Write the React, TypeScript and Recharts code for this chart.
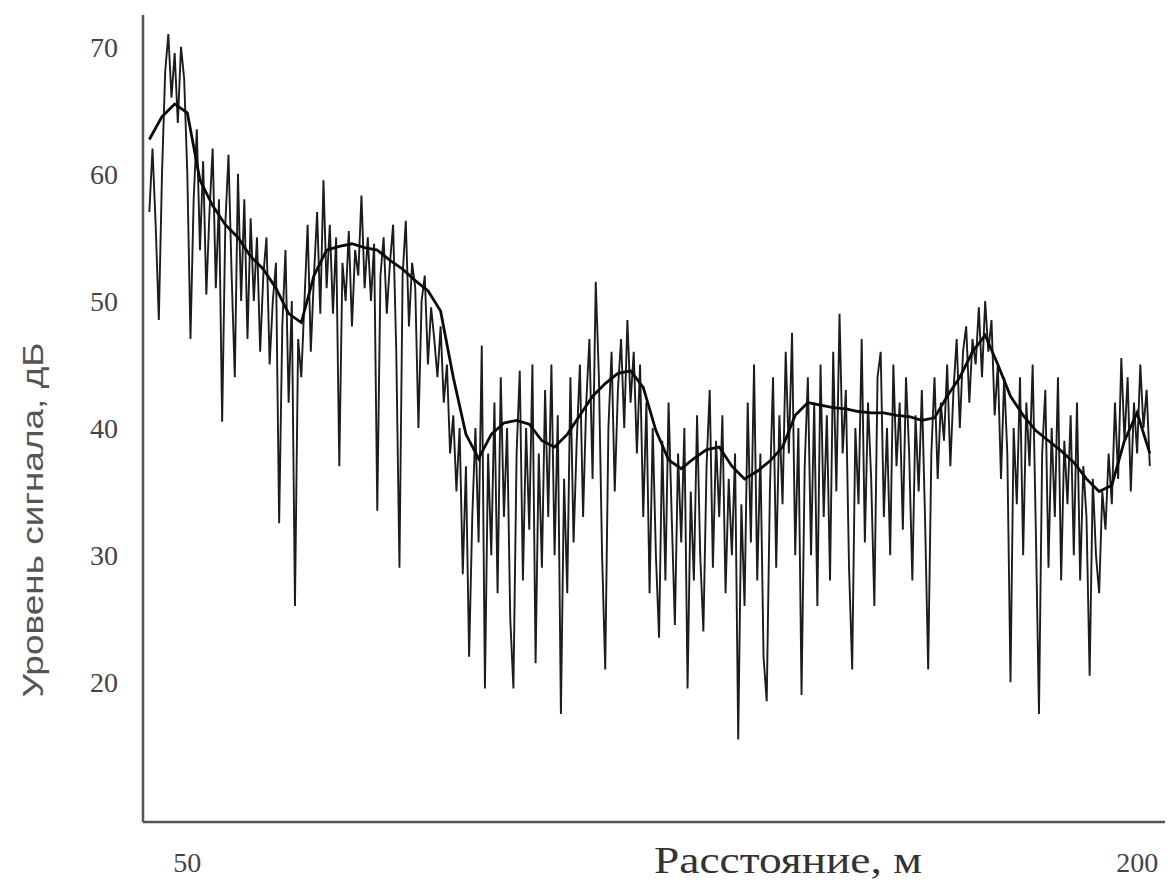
import React from 'react';
import { LineChart, Line, XAxis, YAxis, Label } from 'recharts';

// raw signal, sampled every 0.5 m starting at 44 m
const signalStart = 44;
const signalStep = 0.5;
const signalLevels: number[] = [
    57, 62, 56, 48.5, 60, 68, 71, 66, 69.5, 64,
    70, 67.5, 60, 47, 58, 63.5, 54, 61, 50.5, 57,
    62, 51, 58, 40.5, 56, 61.5, 52, 44, 60, 50,
    58, 47, 56.5, 50, 55, 46, 52, 55, 45, 50,
    53, 32.5, 48, 54, 42, 50, 26, 47, 44, 50,
    56, 46, 52, 57, 49, 59.5, 51, 56, 49, 55,
    37, 53, 50, 55.5, 48, 54, 52, 58.3, 51, 55,
    50, 54.5, 33.5, 52, 55, 49, 53, 56, 46, 29,
    52, 56.3, 48, 53, 51, 40, 50, 52, 45, 49.5,
    47, 44, 48, 42, 45, 38, 41, 35, 40, 28.5,
    37, 22, 33, 40, 31, 46.5, 19.5, 38, 30, 42,
    27, 44, 33, 40, 25, 19.5, 38, 44.5, 28, 40,
    32, 45, 21.5, 38, 29, 43, 33, 45, 30, 41,
    17.5, 36, 27, 44, 31, 39, 45, 33, 42, 47,
    36, 51.5, 44, 30, 21, 40, 46, 35, 43, 47,
    40, 48.5, 42, 46, 38, 45, 33, 42, 27, 40,
    30, 23.5, 39, 28, 42, 33, 24.5, 38, 31, 40,
    19.5, 35, 28, 41, 30, 24, 37, 43, 29, 39,
    33, 41, 27, 36, 30, 38, 15.5, 34, 26, 42,
    31, 45, 28, 38, 22, 18.5, 35, 44, 29, 41,
    34, 46, 38, 47.5, 30, 40, 19, 37, 44, 30,
    42, 26, 45, 33, 41, 28, 46, 35, 49, 38,
    43, 29, 21, 40, 34, 47, 31, 42, 36, 26,
    44, 46, 33, 40, 30, 45, 37, 42, 32, 44,
    38, 28, 41, 35, 43, 33, 21, 38, 44, 36,
    42, 39, 45, 37, 43, 47, 40, 46, 48, 42,
    47, 45, 49.5, 44, 50, 46, 48.5, 41, 45, 36,
    44, 38, 20, 40, 34, 44, 30, 42, 37, 45,
    32, 17.5, 38, 43, 29, 40, 33, 44, 28, 39,
    34, 41, 30, 42, 28, 37, 33, 20.5, 36, 30,
    27, 35, 32, 38, 34, 42, 36, 45.5, 39, 44,
    35, 42, 38, 45, 40, 43, 37,
];

// smoothed level, every 2 m
const smoothDistances: number[] = [
    44, 46, 48, 50, 52, 54, 56, 58, 60, 62, 64, 66, 68, 70, 72, 74, 76, 78, 80, 82,
    84, 86, 88, 90, 92, 94, 96, 98, 100, 102, 104, 106, 108, 110, 112, 114, 116, 118, 120, 122,
    124, 126, 128, 130, 132, 134, 136, 138, 140, 142, 144, 146, 148, 150, 152, 154, 156, 158, 160, 162,
    164, 166, 168, 170, 172, 174, 176, 178, 180, 182, 184, 186, 188, 190, 192, 194, 196, 198, 200, 202,
];
const smoothLevels: number[] = [
    62.7, 64.5, 65.5, 64.8, 59.5, 57.5, 56, 55, 53.5, 52.5, 51, 49, 48.3, 52, 54, 54.3, 54.5, 54.2, 54, 53.2,
    52.5, 51.6, 50.8, 49.2, 44, 39.5, 37.6, 39.5, 40.4, 40.6, 40.3, 39, 38.5, 39.5, 41, 42.5, 43.5, 44.3, 44.5, 43.2,
    39.8, 37.5, 36.8, 37.6, 38.3, 38.5, 37, 36, 36.6, 37.4, 38.5, 41, 42, 41.8, 41.6, 41.5, 41.3, 41.2, 41.2, 41,
    40.9, 40.6, 40.8, 42.5, 44, 46, 47.3, 45, 42.5, 41, 39.8, 39, 38.2, 37.3, 36, 35, 35.5, 39, 41.2, 38,
];

const xTicks = [50, 200];
const yTicks = [20, 30, 40, 50, 60, 70];

const signalData = signalLevels.map((v, i) => ({ x: signalStart + i * signalStep, y: v }));
const smoothData = smoothDistances.map((d, i) => ({ x: d, y: smoothLevels[i] }));

const tickStyle = { fontFamily: '"Liberation Serif", serif', fontSize: 28, fill: '#444' };

const App: React.FC = () => {
    return (
        <LineChart
            width={1165}
            height={873}
            margin={{ top: 7, right: 8, left: 0, bottom: 0 }}
        >
            <XAxis
                type="number"
                dataKey="x"
                domain={[43, 204.4]}
                ticks={xTicks}
                allowDataOverflow
                height={59}
                tickLine={false}
                tickSize={0}
                tickMargin={30}
                tick={tickStyle}
                stroke="#555"
                strokeWidth={2.5}
            >
                <Label
                    content={() => (
                        <text
                            x={780}
                            y={865}
                            textAnchor="middle"
                            textLength={268}
                            lengthAdjust="spacingAndGlyphs"
                            fontFamily='"Liberation Serif", serif'
                            fontSize={37}
                            fill="#333"
                        >
                            Расстояние, м
                        </text>
                    )}
                />
            </XAxis>
            <YAxis
                type="number"
                domain={[9, 72.5]}
                ticks={yTicks}
                allowDataOverflow
                width={135}
                tickLine={false}
                tickSize={0}
                tickMargin={25}
                tick={tickStyle}
                stroke="#555"
                strokeWidth={2.5}
            >
                <Label
                    content={() => (
                        <text
                            x={24}
                            y={512}
                            transform="rotate(-90 24 512)"
                            textAnchor="middle"
                            dominantBaseline="central"
                            textLength={355}
                            lengthAdjust="spacingAndGlyphs"
                            fontFamily='"Liberation Sans", sans-serif'
                            fontSize={30}
                            fill="#555"
                        >
                            Уровень сигнала, дБ
                        </text>
                    )}
                />
            </YAxis>
            <Line
                data={signalData}
                dataKey="y"
                type="linear"
                stroke="#1c1c1c"
                strokeWidth={1.9}
                dot={false}
                isAnimationActive={false}
            />
            <Line
                data={smoothData}
                dataKey="y"
                type="linear"
                stroke="#0a0a0a"
                strokeWidth={2.8}
                dot={false}
                isAnimationActive={false}
            />
        </LineChart>
    );
};

export default App;
